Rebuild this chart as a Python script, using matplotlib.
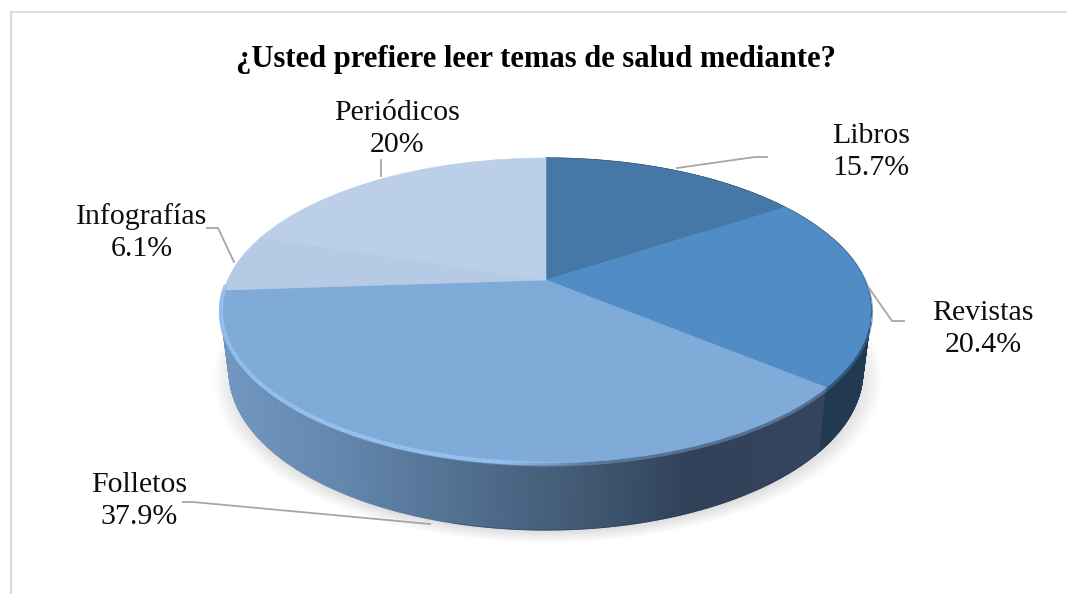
import numpy as np
import matplotlib
matplotlib.use('Agg')
import matplotlib.pyplot as plt
from matplotlib.collections import LineCollection, PolyCollection
from matplotlib.colors import to_rgb
from matplotlib.transforms import Transform

plt.rcParams['font.family'] = ['Liberation Serif', 'DejaVu Serif']

categories = ['Libros', 'Revistas', 'Folletos', 'Infografías', 'Periódicos']
values = [15.7, 20.4, 37.9, 6.1, 20]
value_labels = ['15.7%', '20.4%', '37.9%', '6.1%', '20%']
colors = ['#4577a7', '#508dc6', '#80abd9', '#b5cae4', '#bbcfe8']
title = '¿Usted prefiere leer temas de salud mediante?'

# pie seen in perspective: centre of the disc and its size in pixels
CX, CY = 546, 280
BX, BY, K = 318.4, 146.4, 0.2


def project(u, v):
    d = 1 + K * v
    return CX + BX * u / d, CY - BY * v / d


def project_base(u, v):
    x, y = project(u, v)
    return CX + 0.975 * (x - CX), 1.04 * y + 48.5


class Perspective(Transform):
    input_dims = output_dims = 2
    has_inverse = False
    is_separable = False

    def transform_non_affine(self, xy):
        xy = np.asarray(xy)
        return np.column_stack(project(xy[:, 0], xy[:, 1]))


fig = plt.figure(figsize=(10.67, 5.94), dpi=100)
ax = fig.add_axes([0, 0, 1, 1])

wedges, _ = ax.pie(values, colors=colors, startangle=90, counterclock=False)
ax.set_aspect('auto')
ax.set_xlim(0, 1067)
ax.set_ylim(594, 0)
ax.axis('off')

for w, c in zip(wedges, colors):
    w.set_transform(Perspective() + ax.transData)
    w.set_edgecolor(c)
    w.set_linewidth(0.4)
    w.set_zorder(5)

# soft shadow under the pie
gx, gy = np.meshgrid(np.arange(1067), np.arange(594))
r = np.sqrt(((gx - 547) / 336) ** 2 + ((gy - 378) / 165) ** 2)
shade = np.zeros((594, 1067, 4))
shade[..., 3] = np.clip((1 - r) / 0.08, 0, 1) * 0.14
ax.imshow(shade, extent=(0, 1067, 594, 0), aspect='auto', zorder=1)

# side wall, in thin strips
fractions = np.cumsum([0] + values) / sum(values)
side_x = [220, 340, 480, 600, 690, 820, 870]
side_rgb = np.array([to_rgb(c) for c in
                     ['#7298c2', '#6487ae', '#4f6c8c', '#3f566f', '#31415a', '#34445c', '#34445c']])

angles = np.linspace(0, 2 * np.pi * fractions[3], 500)
u, v = np.sin(angles), np.cos(angles)
xt, yt = project(u, v)
xb, yb = project_base(u, v)
polys, strip_colors = [], []
for i in range(len(angles) - 1):
    polys.append([(xt[i], yt[i]), (xt[i + 1], yt[i + 1]), (xb[i + 1], yb[i + 1]), (xb[i], yb[i])])
    if angles[i] < 2 * np.pi * fractions[2]:
        strip_colors.append(to_rgb('#213a52'))
    else:
        xm = (xt[i] + xb[i]) / 2
        strip_colors.append([np.interp(xm, side_x, side_rgb[:, k]) for k in range(3)])
ax.add_collection(PolyCollection(polys, facecolors=strip_colors, edgecolors=strip_colors,
                                 linewidths=0.8, zorder=3))

# dark lower edge of the wall, right part only
low = (np.cos(angles) < 0.1) & (xb > 450)
ax.plot(xb[low], yb[low], color='#2a3b52', lw=0.6, alpha=0.5, zorder=4)


def rim_segments(a, shift):
    xr, yr = project(np.sin(a), np.cos(a))
    pts = np.column_stack([xr, yr + shift])
    return np.stack([pts[:-1], pts[1:]], axis=1), (xr[:-1] + xr[1:]) / 2


# soft step between top face and wall on the right
a = np.linspace(2 * np.pi * 0.2, 2 * np.pi * fractions[3], 500)
segs, xm = rim_segments(a, 1.5)
soft = np.zeros((len(xm), 4))
mid = a[:-1] < 2 * np.pi * fractions[2]
soft[mid, :3] = to_rgb('#386a99')
soft[~mid, :3] = to_rgb('#6689ae')
soft[:, 3] = 0.7
ax.add_collection(LineCollection(segs, colors=soft, linewidths=3, zorder=4.5))

# bevel highlight on the front rim, left of the middle
a = np.linspace(2 * np.pi * fractions[2], 2 * np.pi * (fractions[3] + 0.006), 400)
segs, xm = rim_segments(a, 0.5)
glow = np.zeros((len(xm), 4))
glow[:, :3] = to_rgb('#97c3f3')
glow[:, 3] = np.clip((590 - xm) / 90, 0, 1)
ax.add_collection(LineCollection(segs, colors=glow, linewidths=3, zorder=6))

# leader lines
ax.plot([381, 381], [176, 160], color='#a6a6a6', lw=1.3, zorder=7)
ax.plot([677, 755, 767], [168, 157, 157], color='#a6a6a6', lw=1.3, zorder=7)
ax.plot([869, 892, 904], [288, 321, 321], color='#a6a6a6', lw=1.3, zorder=7)
ax.plot([207, 218, 234], [228, 228, 262], color='#a6a6a6', lw=1.3, zorder=7)
ax.plot([183, 193, 430], [502, 502, 524], color='#a6a6a6', lw=1.3, zorder=7)

# labels
label_pos = [(871, 152), (983, 329), (139, 501), (142, 233), (397, 129)]
for name, val, (lx, ly) in zip(categories, value_labels, label_pos):
    ax.text(lx, ly, name + '\n' + val, ha='center', va='center', fontsize=21.5,
            linespacing=1.3, color='#0d0d0d', zorder=8)

ax.text(536.5, 59.5, title, ha='center', va='center', fontsize=22.1, fontweight='bold',
        color='black', zorder=8)

# chart frame
ax.plot([11, 11], [594, 12], color='#d9d9d9', lw=1.6, zorder=2)
ax.plot([11, 1067], [11.5, 11.5], color='#d9d9d9', lw=1.2, zorder=2)

fig.savefig('out.png', dpi=100)
